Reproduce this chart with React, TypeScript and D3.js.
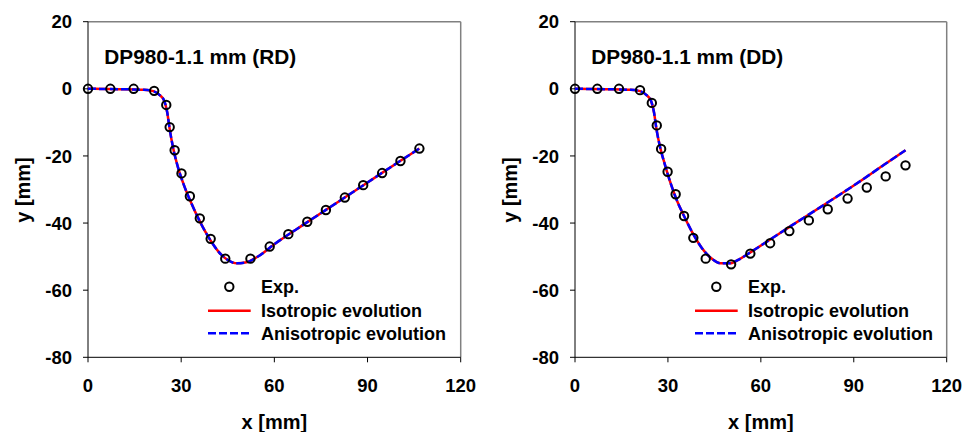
import React from "react";
import * as d3 from "d3";

// ---- Data ----
const rdExpX = [0, 7.2, 14.7, 21.3, 25.2, 26.3, 27.9, 30.1, 32.8, 36, 39.5, 44.2, 52.3, 58.5, 64.5, 70.6, 76.6, 82.7, 88.6, 94.7, 100.6, 106.7];
const rdExpY = [0, 0, 0, -0.6, -4.8, -11.4, -18.3, -25.2, -32, -38.6, -44.7, -50.6, -50.6, -47, -43.3, -39.6, -36.1, -32.4, -28.7, -25.1, -21.5, -17.8];
const rdSimX = [0, 10, 18, 21, 23, 24.5, 25.5, 26.3, 27.5, 29, 31, 33, 36, 39, 42, 45, 48, 51, 55, 60, 70, 80, 90, 100, 106.7];
const rdIsoY = [0, -0.1, -0.3, -0.7, -1.8, -3.5, -7, -12, -18, -23.5, -29, -33.5, -39.5, -44.5, -48.5, -51, -52, -51.7, -49.8, -46.3, -40.1, -34, -27.9, -21.8, -17.8];
const rdAniY = [0, -0.1, -0.3, -0.7, -1.8, -3.5, -7, -12, -18, -23.5, -29, -33.5, -39.5, -44.5, -48.5, -51, -52, -51.7, -49.8, -46.3, -40.1, -34, -27.9, -21.8, -17.8];

const ddExpX = [0, 7.2, 14.2, 21, 24.8, 26.4, 27.8, 29.9, 32.5, 35.2, 38.2, 42.2, 50.4, 56.6, 63, 69.2, 75.5, 81.6, 88, 94.2, 100.3, 106.7];
const ddExpY = [0, 0, 0, -0.4, -4.2, -10.9, -17.9, -24.7, -31.4, -37.9, -44.4, -50.6, -52.3, -49.1, -46, -42.4, -39.2, -35.9, -32.7, -29.4, -26.1, -22.8];
const ddSimX = [0, 10, 18, 21, 23, 24.5, 25.5, 26.3, 27.5, 29, 31, 33, 35, 38, 41, 44, 47, 50, 53, 57, 63, 70, 80, 90, 100, 106.7];
const ddIsoY = [0, -0.1, -0.3, -0.7, -1.8, -3.5, -7, -12, -17.5, -22.5, -28.5, -33.5, -37.5, -43, -47.5, -50.5, -52, -52, -50.8, -48.5, -44.9, -40.7, -34.8, -28.8, -22.5, -18.3];
const ddAniY = [0, -0.1, -0.3, -0.7, -1.8, -3.5, -7, -12, -17.5, -22.5, -28.5, -33.5, -37.5, -43, -47.5, -50.5, -52, -52, -50.8, -48.5, -44.9, -40.7, -34.8, -28.8, -22.5, -18.3];

const xTicks = [0, 30, 60, 90, 120];
const yTicks = [20, 0, -20, -40, -60, -80];
const legendLabels = ["Exp.", "Isotropic evolution", "Anisotropic evolution"];
const titles = ["DP980-1.1 mm (RD)", "DP980-1.1 mm (DD)"];

const FONT = "'Liberation Sans', Arial, sans-serif";

type PanelProps = {
  x0: number; x1: number; title: string;
  expX: number[]; expY: number[]; simX: number[]; isoY: number[]; aniY: number[];
};

function Panel({ x0, x1, title, expX, expY, simX, isoY, aniY }: PanelProps) {
  const yTop = 21.7, yBot = 357.3;
  const xs = d3.scaleLinear().domain([0, 120]).range([x0, x1]);
  const ys = d3.scaleLinear().domain([20, -80]).range([yTop, yBot]);
  const line = d3.line<[number, number]>().x(d => xs(d[0])).y(d => ys(d[1])).curve(d3.curveMonotoneX);
  const iso = line(simX.map((v, i) => [v, isoY[i]]) as [number, number][]) || "";
  const ani = line(simX.map((v, i) => [v, aniY[i]]) as [number, number][]) || "";
  const lx = x0 + 120; // legend line start
  const ltx = x0 + 173; // legend text x
  return (
    <g>
      {/* frame */}
      <line x1={x0} x2={x1} y1={yTop} y2={yTop} stroke="#808080" strokeWidth={1.5} />
      <line x1={x1} x2={x1} y1={yTop} y2={yBot} stroke="#808080" strokeWidth={1.5} />
      <line x1={x0} x2={x0} y1={yTop} y2={yBot} stroke="#000" strokeWidth={1} />
      <line x1={x0} x2={x1} y1={yBot} y2={yBot} stroke="#000" strokeWidth={1} />
      {yTicks.map(t => (
        <g key={"y" + t}>
          <line x1={x0 - 5} x2={x0} y1={ys(t)} y2={ys(t)} stroke="#000" />
          <text x={x0 - 16} y={ys(t)} dy="0.36em" textAnchor="end" fontSize={18.5} fontWeight="bold" fontFamily={FONT}>{t}</text>
        </g>
      ))}
      {xTicks.map(t => (
        <g key={"x" + t}>
          <line x1={xs(t)} x2={xs(t)} y1={yBot} y2={yBot + 5} stroke="#000" />
          <text x={xs(t)} y={385} dy="0.36em" textAnchor="middle" fontSize={18.5} fontWeight="bold" fontFamily={FONT}>{t}</text>
        </g>
      ))}
      <text x={(x0 + x1) / 2} y={421.5} dy="0.36em" textAnchor="middle" fontSize={20} fontWeight="bold" fontFamily={FONT}>x [mm]</text>
      <text transform={`translate(${x0 - 65},${190}) rotate(-90)`} dy="0.36em" textAnchor="middle" fontSize={20} fontWeight="bold" fontFamily={FONT}>y [mm]</text>
      <text x={x0 + 16.3} y={56.7} dy="0.36em" fontSize={20.8} fontWeight="bold" fontFamily={FONT}>{title}</text>
      {/* curves */}
      <path d={iso} fill="none" stroke="#ff0000" strokeWidth={2.5} />
      <path d={ani} fill="none" stroke="#0000ff" strokeWidth={2.5} strokeDasharray="8,3" />
      {expX.map((v, i) => (
        <circle key={i} cx={xs(v)} cy={ys(expY[i])} r={4.2} fill="none" stroke="#000" strokeWidth={2} />
      ))}
      {/* legend */}
      <circle cx={lx + 21.3} cy={286.7} r={4.2} fill="none" stroke="#000" strokeWidth={2} />
      <text x={ltx} y={286.7} dy="0.36em" fontSize={18} fontWeight="bold" fontFamily={FONT}>{legendLabels[0]}</text>
      <line x1={lx} x2={lx + 42.7} y1={310.7} y2={310.7} stroke="#ff0000" strokeWidth={2.5} />
      <text x={ltx} y={310.7} dy="0.36em" fontSize={18} fontWeight="bold" fontFamily={FONT}>{legendLabels[1]}</text>
      <line x1={lx} x2={lx + 42.7} y1={333.3} y2={333.3} stroke="#0000ff" strokeWidth={2.5} strokeDasharray="8,3" />
      <text x={ltx} y={333.3} dy="0.36em" fontSize={18} fontWeight="bold" fontFamily={FONT}>{legendLabels[2]}</text>
    </g>
  );
}

export default function App() {
  return (
    <svg width={965} height={432} style={{ position: "absolute", left: 0, top: 0, background: "#fff" }}>
      <rect width={965} height={432} fill="#fff" />
      <Panel x0={88} x1={460.7} title={titles[0]} expX={rdExpX} expY={rdExpY} simX={rdSimX} isoY={rdIsoY} aniY={rdAniY} />
      <Panel x0={575} x1={946.7} title={titles[1]} expX={ddExpX} expY={ddExpY} simX={ddSimX} isoY={ddIsoY} aniY={ddAniY} />
    </svg>
  );
}
